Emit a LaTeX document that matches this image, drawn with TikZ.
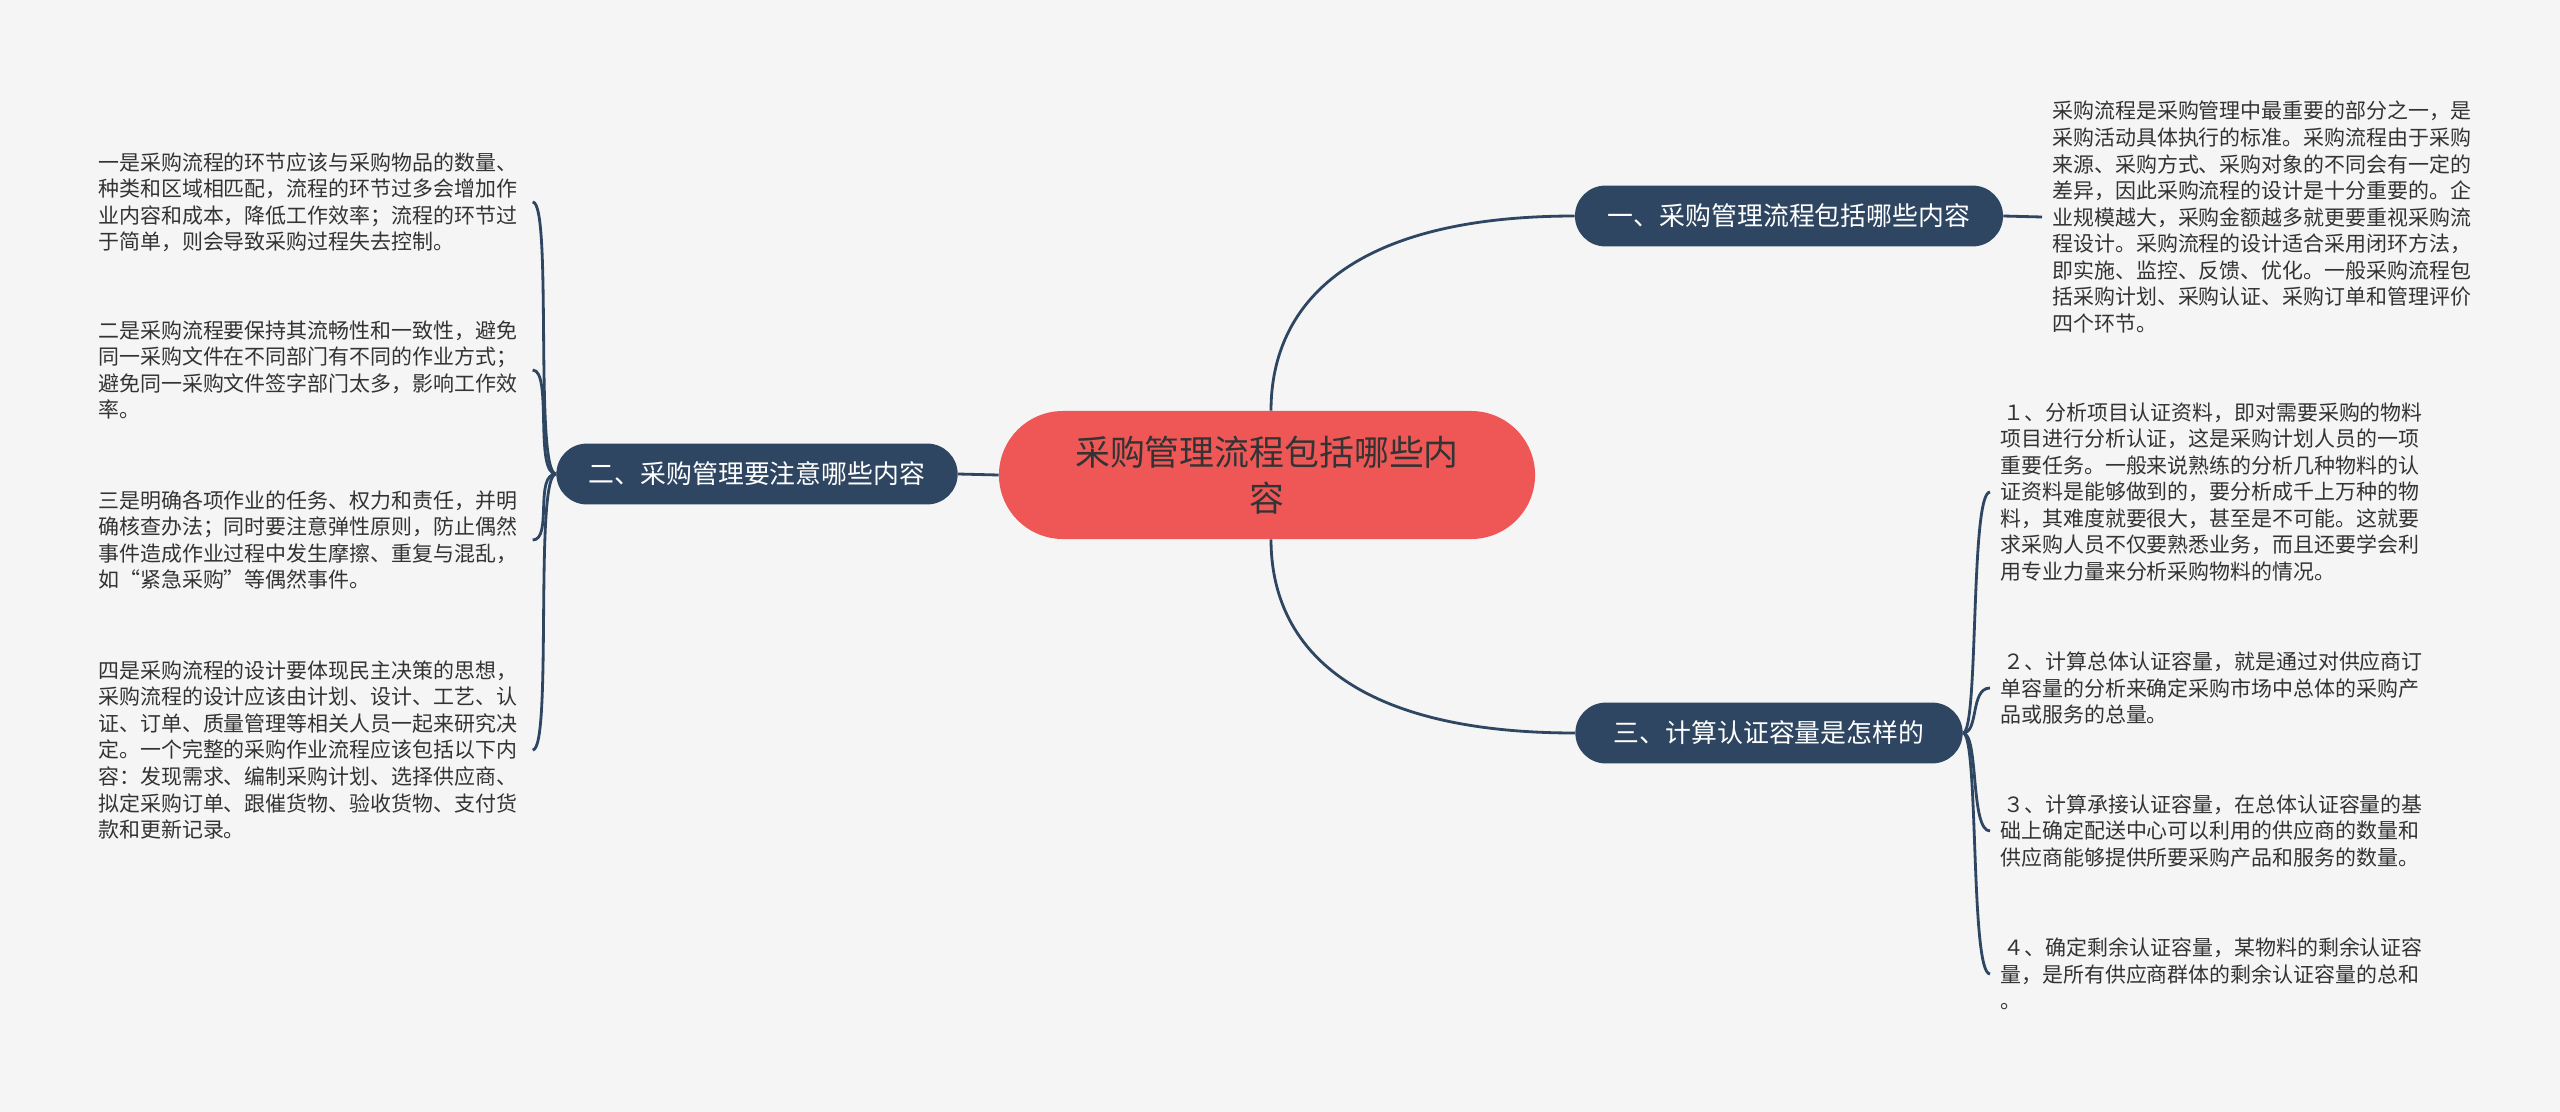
\documentclass[tikz,border=0pt]{standalone}
\usepackage{fontspec}
\setmainfont{Noto Sans CJK SC}
\usetikzlibrary{calc}
\definecolor{sfondo}{HTML}{F5F5F5}
\definecolor{rosso}{HTML}{EF5757}
\definecolor{blu}{HTML}{2E4661}
\definecolor{testo}{HTML}{333333}
\tikzset{
  radice/.style={fill=rosso,text=testo,rounded corners=1.6cm,minimum width=13.4cm,minimum height=3.2cm,align=center,font=\fontsize{24.8}{32.6}\selectfont},
  ramo/.style={fill=blu,text=white,rounded corners=0.76cm,minimum height=1.52cm,font=\fontsize{18.4}{22}\selectfont},
  foglia/.style={text=testo,text width=10.6cm,align=left,inner xsep=0.25cm,font=\fontsize{14.9}{18.85}\selectfont},
  linea/.style={blu,line width=2pt},
}
\begin{document}
\begin{tikzpicture}[x=0.025cm,y=-0.025cm]
    %sfondo
    \fill[sfondo] (0,0) rectangle (2560,1112);
    \useasboundingbox (0,0) rectangle (2560,1112);

    %nodo centrale
    \node[radice] (root) at (1267,475) {采购管理流程包括哪些内\\容};

    %rami
    \node[ramo,minimum width=10.7cm] (n1) at (1789,216) {一、采购管理流程包括哪些内容};
    \node[ramo,minimum width=10.03cm] (n2) at (757,474) {二、采购管理要注意哪些内容};
    \node[ramo,minimum width=9.68cm] (n3) at (1769,733) {三、计算认证容量是怎样的};

    %foglie a destra
    \node[foglia,anchor=west] (t1) at (2042,217) {采购流程是采购管理中最重要的部分之一，是\\采购活动具体执行的标准。采购流程由于采购\\来源、采购方式、采购对象的不同会有一定的\\差异，因此采购流程的设计是十分重要的。企\\业规模越大，采购金额越多就更要重视采购流\\程设计。采购流程的设计适合采用闭环方法，\\即实施、监控、反馈、优化。一般采购流程包\\括采购计划、采购认证、采购订单和管理评价\\四个环节。};
    \node[foglia,anchor=west] (fa) at (1990,492) {\,１、分析项目认证资料，即对需要采购的物料\\项目进行分析认证，这是采购计划人员的一项\\重要任务。一般来说熟练的分析几种物料的认\\证资料是能够做到的，要分析成千上万种的物\\料，其难度就要很大，甚至是不可能。这就要\\求采购人员不仅要熟悉业务，而且还要学会利\\用专业力量来分析采购物料的情况。};
    \node[foglia,anchor=west] (fb) at (1990,688) {\,２、计算总体认证容量，就是通过对供应商订\\单容量的分析来确定采购市场中总体的采购产\\品或服务的总量。};
    \node[foglia,anchor=west] (fc) at (1990,831) {\,３、计算承接认证容量，在总体认证容量的基\\础上确定配送中心可以利用的供应商的数量和\\供应商能够提供所要采购产品和服务的数量。};
    \node[foglia,anchor=west] (fd) at (1990,974) {\,４、确定剩余认证容量，某物料的剩余认证容\\量，是所有供应商群体的剩余认证容量的总和\\。};

    %foglie a sinistra
    \node[foglia,anchor=west] (f1) at (88,202) {一是采购流程的环节应该与采购物品的数量、\\种类和区域相匹配，流程的环节过多会增加作\\业内容和成本，降低工作效率；流程的环节过\\于简单，则会导致采购过程失去控制。};
    \node[foglia,anchor=west] (f2) at (88,370) {二是采购流程要保持其流畅性和一致性，避免\\同一采购文件在不同部门有不同的作业方式；\\避免同一采购文件签字部门太多，影响工作效\\率。};
    \node[foglia,anchor=west] (f3) at (88,540) {三是明确各项作业的任务、权力和责任，并明\\确核查办法；同时要注意弹性原则，防止偶然\\事件造成作业过程中发生摩擦、重复与混乱，\\如“紧急采购”等偶然事件。};
    \node[foglia,anchor=west] (f4) at (88,750) {四是采购流程的设计要体现民主决策的思想，\\采购流程的设计应该由计划、设计、工艺、认\\证、订单、质量管理等相关人员一起来研究决\\定。一个完整的采购作业流程应该包括以下内\\容：发现需求、编制采购计划、选择供应商、\\拟定采购订单、跟催货物、验收货物、支付货\\款和更新记录。};

    %collegamenti
    \draw[linea] ($(root.north)+(4,0)$) .. controls +(0,-110) and +(-220,0) .. (n1.west);
    \draw[linea] ($(root.south)+(4,0)$) .. controls +(0,110) and +(-220,0) .. (n3.west);
    \draw[linea] (root.west) -- (n2.east);
    \draw[linea] (n1.east) -- (t1.west);
    \foreach \f in {f1,f2,f3,f4}
        \draw[linea] (n2.west) .. controls +(-22,0) and +(20,0) .. (\f.east);
    \foreach \f in {fa,fb,fc,fd}
        \draw[linea] (n3.east) .. controls +(16,0) and +(-20,0) .. (\f.west);

    \end{tikzpicture}
\end{document}
